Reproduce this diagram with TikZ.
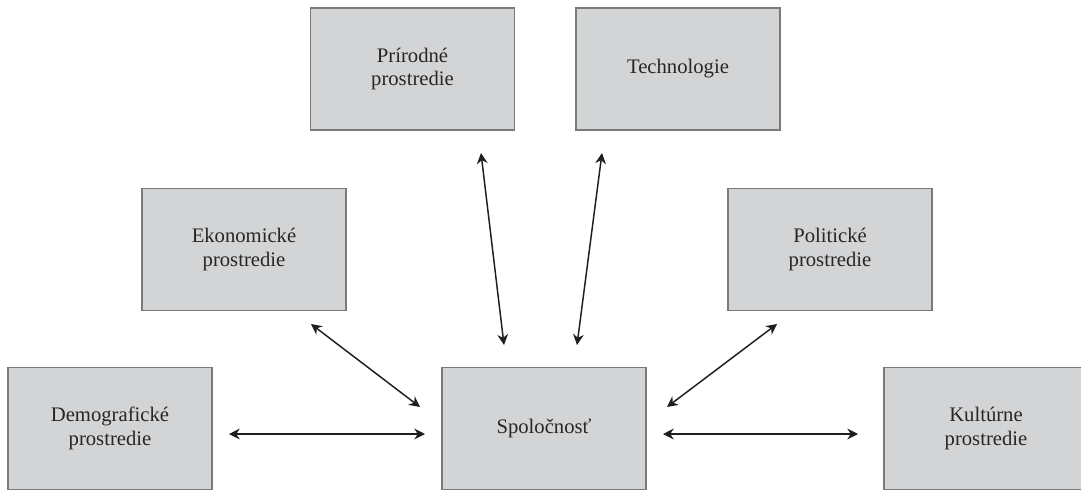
\documentclass[tikz,border=0pt]{standalone}
\usepackage{fontspec}
\setmainfont{Liberation Serif}
\usetikzlibrary{arrows.meta}
\definecolor{boxfill}{HTML}{D3D4D6}
\definecolor{boxline}{HTML}{7A7A7A}
\definecolor{arrowcol}{HTML}{1E1E1E}
\tikzset{
  envbox/.style={draw=boxline, line width=1.1pt, fill=boxfill, minimum width=153pt, minimum height=91.5pt, align=center, inner sep=0pt, font=\fontsize{15.5}{17.5}\selectfont, text=black!85},
  link/.style={arrowcol, line width=1.1pt, {Stealth[length=8pt,width=8pt]}-{Stealth[length=8pt,width=8pt]}}
}
\begin{document}
\begin{tikzpicture}[x=0.75pt,y=-0.75pt]
\useasboundingbox (0,0) rectangle (1081,489);
\fill[white] (0,0) rectangle (1081,489);
\clip (0,0) rectangle (1081,489);
\node[envbox] (prir)  at (412.5,69)  {Prírodné\\prostredie};
\node[envbox] (tech)  at (678,69)    {Technologie};
\node[envbox] (ekon)  at (244,249.5) {Ekonomické\\prostredie};
\node[envbox] (polit) at (830,249.5) {Politické\\prostredie};
\node[envbox] (demo)  at (110,428.5) {Demografické\\prostredie};
\node[envbox] (spol)  at (544,428.5) {Spoločnosť};
\node[envbox] (kult)  at (986,428.5) {Kultúrne\\prostredie};
% arrow end points
\coordinate (prirA) at (481,153);
\coordinate (prirB) at (504,345);
\coordinate (techA) at (602,153);
\coordinate (techB) at (577,345);
\coordinate (ekonA) at (311,324);
\coordinate (ekonB) at (420,407);
\coordinate (politA) at (777,324);
\coordinate (politB) at (667,407);
\coordinate (demoA) at (229,434);
\coordinate (demoB) at (425,434);
\coordinate (kultA) at (663,434);
\coordinate (kultB) at (858,434);
\draw[link] (prirA) -- (prirB);
\draw[link] (techA) -- (techB);
\draw[link] (ekonA) -- (ekonB);
\draw[link] (politA) -- (politB);
\draw[link] (demoA) -- (demoB);
\draw[link] (kultA) -- (kultB);
\end{tikzpicture}
\end{document}
